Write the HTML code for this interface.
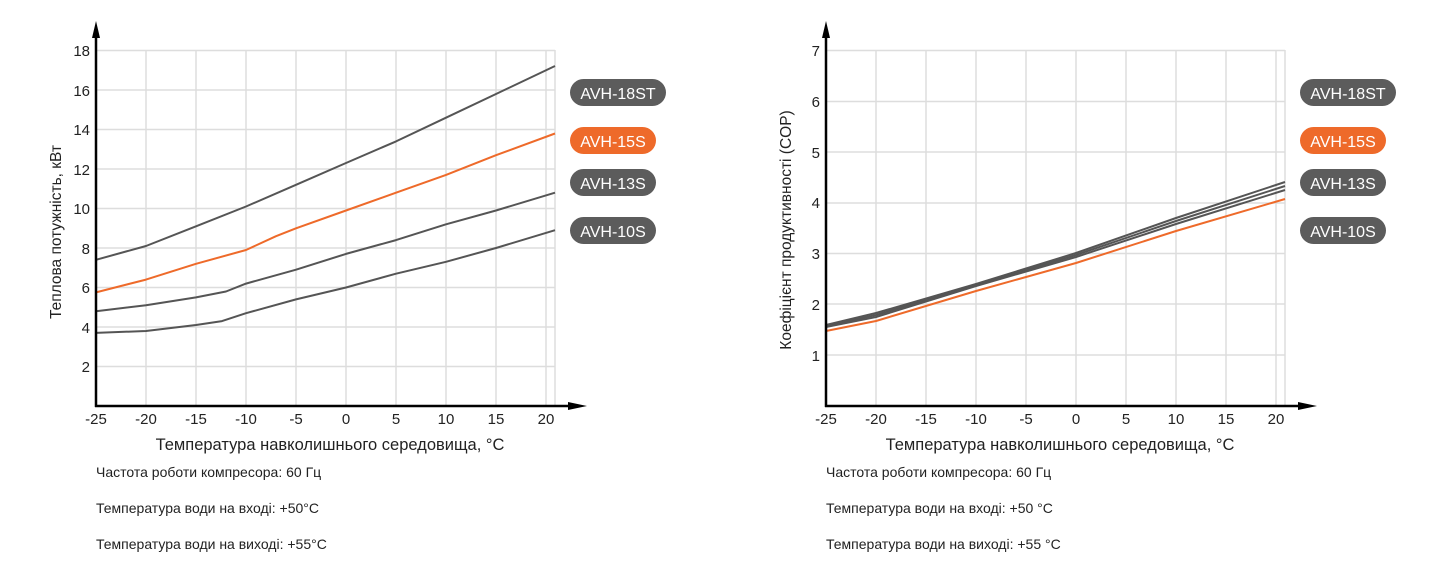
<!DOCTYPE html>
<html><head><meta charset="utf-8"><style>
body{margin:0;background:#fff;}
svg{display:block;font-family:"Liberation Sans",Arial,sans-serif;}
.g{stroke:#ddd;stroke-width:1.5;}
.t{font-size:15px;fill:#222;}
.x{font-size:16.5px;fill:#222;}
.yl{font-size:15.5px;fill:#222;}
.n{font-size:14px;fill:#222;}
.s{fill:none;stroke-width:2;stroke-linejoin:round;}
.pl{font-size:16px;fill:#fff;}
</style></head><body>
<svg width="1440" height="580" viewBox="0 0 1440 580">
<g>
<g class="g">
<line x1="146" y1="50" x2="146" y2="406"/><line x1="196" y1="50" x2="196" y2="406"/><line x1="246" y1="50" x2="246" y2="406"/><line x1="296" y1="50" x2="296" y2="406"/><line x1="346" y1="50" x2="346" y2="406"/><line x1="396" y1="50" x2="396" y2="406"/><line x1="446" y1="50" x2="446" y2="406"/><line x1="496" y1="50" x2="496" y2="406"/><line x1="546" y1="50" x2="546" y2="406"/><line x1="555" y1="50" x2="555" y2="406"/>
<line x1="96" y1="50.5" x2="555" y2="50.5"/><line x1="96" y1="90" x2="555" y2="90"/><line x1="96" y1="129.5" x2="555" y2="129.5"/><line x1="96" y1="169" x2="555" y2="169"/><line x1="96" y1="208.5" x2="555" y2="208.5"/><line x1="96" y1="248" x2="555" y2="248"/><line x1="96" y1="287.5" x2="555" y2="287.5"/><line x1="96" y1="327" x2="555" y2="327"/><line x1="96" y1="366.5" x2="555" y2="366.5"/>
</g>
<polyline class="s" stroke="#555" points="96,259.8 146,246 196,226.3 246,206.5 296,184.8 346,163 396,141.4 446,117.7 496,94 555,66"/>
<polyline class="s" stroke="#ee6a2a" points="96,292.4 146,279.6 196,263.8 246,250 276,236.2 296,228.3 346,210.5 396,192.7 446,174.9 496,155.2 555,133.5"/>
<polyline class="s" stroke="#555" points="96,311.2 146,305.3 196,297.4 226,291.5 246,283.6 296,269.7 346,253.9 396,240.1 446,224.3 496,210.5 555,192.7"/>
<polyline class="s" stroke="#555" points="96,332.9 146,331 196,325 222,321.1 246,313.2 296,299.4 346,287.5 396,273.7 446,261.8 496,248 555,230.2"/>
<line x1="96" y1="407" x2="96" y2="30" stroke="#000" stroke-width="2.5"/>
<polygon points="96,21 92,38 100,38" fill="#000"/>
<line x1="95" y1="406" x2="570" y2="406" stroke="#000" stroke-width="2.5"/>
<polygon points="587,406 568,402 568,410" fill="#000"/>
<g class="t" text-anchor="end">
<text x="90" y="56">18</text><text x="90" y="96">16</text><text x="90" y="135">14</text><text x="90" y="175">12</text><text x="90" y="214">10</text><text x="90" y="254">8</text><text x="90" y="293">6</text><text x="90" y="333">4</text><text x="90" y="372">2</text>
</g>
<g class="t" text-anchor="middle">
<text x="96" y="424">-25</text><text x="146" y="424">-20</text><text x="196" y="424">-15</text><text x="246" y="424">-10</text><text x="296" y="424">-5</text><text x="346" y="424">0</text><text x="396" y="424">5</text><text x="446" y="424">10</text><text x="496" y="424">15</text><text x="546" y="424">20</text>
</g>
<text class="x" x="330" y="450" text-anchor="middle">Температура навколишнього середовища, °C</text>
<text class="yl" transform="translate(61,232) rotate(-90)" text-anchor="middle">Теплова потужність, кВт</text>
<g class="n"><text x="96" y="477">Частота роботи компресора: 60 Гц</text><text x="96" y="513">Температура води на вході: +50°C</text><text x="96" y="549">Температура води на виході: +55°C</text></g>
<rect x="570" y="79" width="96" height="27" rx="13.5" fill="#5c5c5c"/><text class="pl" x="618" y="99" text-anchor="middle">AVH-18ST</text>
<rect x="570" y="127" width="86" height="27" rx="13.5" fill="#ee6a2a"/><text class="pl" x="613" y="147" text-anchor="middle">AVH-15S</text>
<rect x="570" y="169" width="86" height="27" rx="13.5" fill="#5c5c5c"/><text class="pl" x="613" y="189" text-anchor="middle">AVH-13S</text>
<rect x="570" y="217" width="86" height="27" rx="13.5" fill="#5c5c5c"/><text class="pl" x="613" y="237" text-anchor="middle">AVH-10S</text>
</g>
<g>
<g class="g">
<line x1="876" y1="50" x2="876" y2="406"/><line x1="926" y1="50" x2="926" y2="406"/><line x1="976" y1="50" x2="976" y2="406"/><line x1="1026" y1="50" x2="1026" y2="406"/><line x1="1076" y1="50" x2="1076" y2="406"/><line x1="1126" y1="50" x2="1126" y2="406"/><line x1="1176" y1="50" x2="1176" y2="406"/><line x1="1226" y1="50" x2="1226" y2="406"/><line x1="1276" y1="50" x2="1276" y2="406"/><line x1="1285" y1="50" x2="1285" y2="406"/>
<line x1="826" y1="50.5" x2="1285" y2="50.5"/><line x1="826" y1="101.5" x2="1285" y2="101.5"/><line x1="826" y1="152" x2="1285" y2="152"/><line x1="826" y1="203" x2="1285" y2="203"/><line x1="826" y1="253.5" x2="1285" y2="253.5"/><line x1="826" y1="304" x2="1285" y2="304"/><line x1="826" y1="355" x2="1285" y2="355"/>
</g>
<polyline class="s" stroke="#555" points="826,325 876,313 976,284 1076,253 1176,218 1285,182"/>
<polyline class="s" stroke="#555" points="826,326 876,315 976,285 1076,255 1176,221 1285,186"/>
<polyline class="s" stroke="#555" points="826,327 876,317 976,286 1076,257 1176,224 1285,190"/>
<polyline class="s" stroke="#ee6a2a" points="826,331 876,321 976,291 1076,263 1176,231 1285,199"/>
<line x1="826" y1="407" x2="826" y2="30" stroke="#000" stroke-width="2.5"/>
<polygon points="826,21 822,38 830,38" fill="#000"/>
<line x1="825" y1="406" x2="1300" y2="406" stroke="#000" stroke-width="2.5"/>
<polygon points="1317,406 1298,402 1298,410" fill="#000"/>
<g class="t" text-anchor="end">
<text x="820" y="56">7</text><text x="820" y="107">6</text><text x="820" y="158">5</text><text x="820" y="208">4</text><text x="820" y="259">3</text><text x="820" y="310">2</text><text x="820" y="361">1</text>
</g>
<g class="t" text-anchor="middle">
<text x="826" y="424">-25</text><text x="876" y="424">-20</text><text x="926" y="424">-15</text><text x="976" y="424">-10</text><text x="1026" y="424">-5</text><text x="1076" y="424">0</text><text x="1126" y="424">5</text><text x="1176" y="424">10</text><text x="1226" y="424">15</text><text x="1276" y="424">20</text>
</g>
<text class="x" x="1060" y="450" text-anchor="middle">Температура навколишнього середовища, °C</text>
<text class="yl" transform="translate(791,230) rotate(-90)" text-anchor="middle">Коефіцієнт продуктивності (COP)</text>
<g class="n"><text x="826" y="477">Частота роботи компресора: 60 Гц</text><text x="826" y="513">Температура води на вході: +50 °C</text><text x="826" y="549">Температура води на виході: +55 °C</text></g>
<rect x="1300" y="79" width="96" height="27" rx="13.5" fill="#5c5c5c"/><text class="pl" x="1348" y="99" text-anchor="middle">AVH-18ST</text>
<rect x="1300" y="127" width="86" height="27" rx="13.5" fill="#ee6a2a"/><text class="pl" x="1343" y="147" text-anchor="middle">AVH-15S</text>
<rect x="1300" y="169" width="86" height="27" rx="13.5" fill="#5c5c5c"/><text class="pl" x="1343" y="189" text-anchor="middle">AVH-13S</text>
<rect x="1300" y="217" width="86" height="27" rx="13.5" fill="#5c5c5c"/><text class="pl" x="1343" y="237" text-anchor="middle">AVH-10S</text>
</g>
</svg>
</body></html>
